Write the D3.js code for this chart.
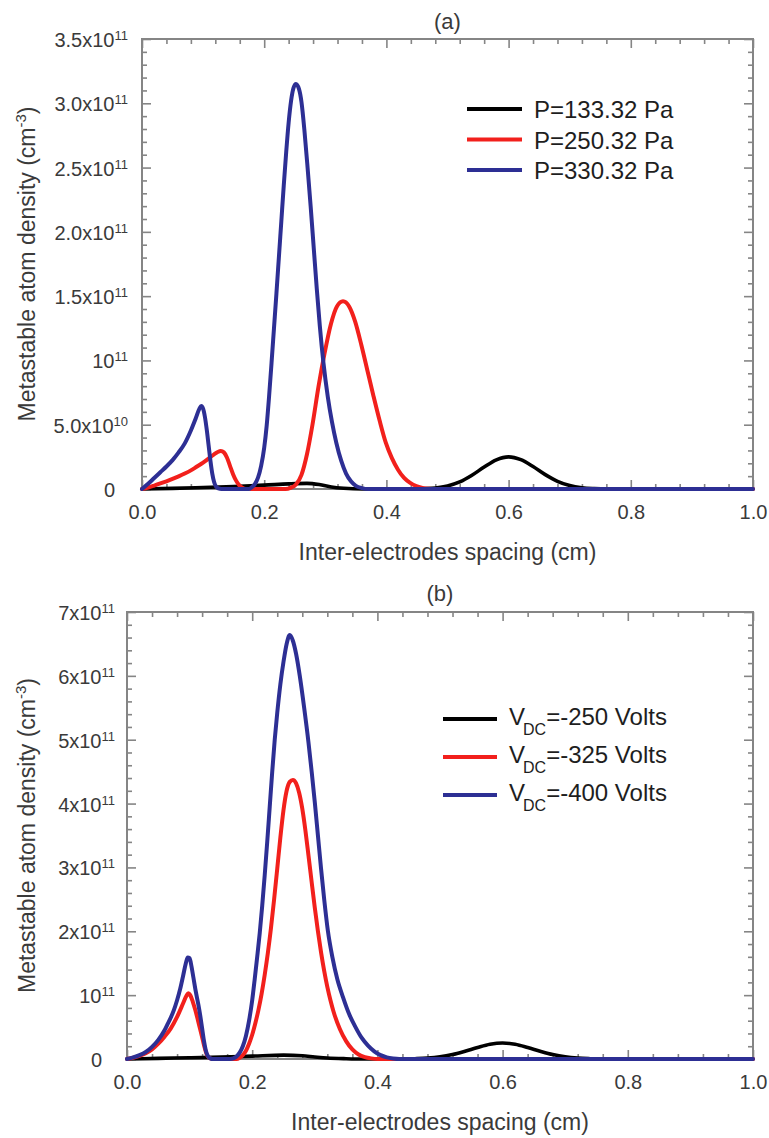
<!DOCTYPE html>
<html>
<head>
<meta charset="utf-8">
<script src="https://cdn.jsdelivr.net/npm/d3@7"></script>
<style>
  html, body { margin: 0; padding: 0; background: #fff; }
  svg { display: block; font-family: "Liberation Sans", Arial, Helvetica, sans-serif; }
</style>
</head>
<body>
<svg id="chart" width="769" height="1138"></svg>
<script>
// ---------------- DATA (densities in units of 1e11 cm^-3) ----------------
const xTicks = [0, 0.2, 0.4, 0.6, 0.8, 1.0];
const xTickLabels = ["0.0", "0.2", "0.4", "0.6", "0.8", "1.0"];

const yTicksA = [0, 0.5, 1, 1.5, 2, 2.5, 3, 3.5];
const yTickLabelsA = [["0", ""], ["5.0x10", "10"], ["10", "11"], ["1.5x10", "11"], ["2.0x10", "11"], ["2.5x10", "11"], ["3.0x10", "11"], ["3.5x10", "11"]];

const yTicksB = [0, 1, 2, 3, 4, 5, 6, 7];
const yTickLabelsB = [["0", ""], ["10", "11"], ["2x10", "11"], ["3x10", "11"], ["4x10", "11"], ["5x10", "11"], ["6x10", "11"], ["7x10", "11"]];

const legendA = ["P=133.32 Pa", "P=250.32 Pa", "P=330.32 Pa"];
const legendB = [["V", "DC", "=-250 Volts"], ["V", "DC", "=-325 Volts"], ["V", "DC", "=-400 Volts"]];

// Panel (a): P = 133.32 Pa
const blackA = [[0,0],[0.05,0.005],[0.1,0.012],[0.15,0.02],[0.2,0.03],[0.24,0.04],[0.27,0.044],[0.29,0.035],[0.31,0.016],[0.33,0.006],[0.36,0],[0.45,0],[0.46,0.002],[0.48,0.008],[0.5,0.024],[0.52,0.055],[0.54,0.107],[0.56,0.171],[0.58,0.227],[0.6,0.25],[0.62,0.228],[0.64,0.175],[0.66,0.112],[0.68,0.06],[0.7,0.027],[0.72,0.01],[0.74,0.003],[0.76,0],[1,0]];
// Panel (a): P = 250.32 Pa
const redA = [[0,0],[0.01,0.012],[0.02,0.027],[0.03,0.043],[0.04,0.06],[0.05,0.078],[0.06,0.098],[0.07,0.12],[0.08,0.145],[0.09,0.175],[0.1,0.205],[0.11,0.24],[0.118,0.27],[0.124,0.288],[0.129,0.295],[0.134,0.285],[0.139,0.245],[0.144,0.18],[0.149,0.115],[0.154,0.065],[0.159,0.03],[0.164,0.01],[0.17,0],[0.235,0],[0.243,0.008],[0.252,0.035],[0.261,0.11],[0.27,0.27],[0.279,0.5],[0.289,0.8],[0.299,1.06],[0.309,1.28],[0.319,1.42],[0.329,1.46],[0.339,1.42],[0.349,1.3],[0.359,1.12],[0.369,0.92],[0.379,0.72],[0.389,0.53],[0.399,0.36],[0.409,0.24],[0.419,0.15],[0.429,0.086],[0.439,0.047],[0.449,0.022],[0.459,0.009],[0.47,0.002],[0.48,0],[1,0]];
// Panel (a): P = 330.32 Pa
const blueA = [[0,0],[0.01,0.04],[0.02,0.085],[0.03,0.13],[0.04,0.175],[0.05,0.225],[0.06,0.285],[0.07,0.355],[0.08,0.455],[0.088,0.55],[0.094,0.625],[0.097,0.645],[0.1,0.625],[0.103,0.56],[0.106,0.46],[0.109,0.34],[0.112,0.22],[0.115,0.12],[0.118,0.055],[0.121,0.02],[0.125,0.005],[0.13,0],[0.175,0],[0.18,0.015],[0.185,0.04],[0.19,0.09],[0.195,0.18],[0.2,0.32],[0.204,0.49],[0.208,0.72],[0.212,0.98],[0.216,1.25],[0.22,1.52],[0.224,1.8],[0.228,2.08],[0.232,2.36],[0.236,2.62],[0.24,2.85],[0.244,3.02],[0.248,3.12],[0.252,3.15],[0.257,3.11],[0.261,3.01],[0.266,2.78],[0.271,2.5],[0.276,2.2],[0.281,1.88],[0.286,1.56],[0.291,1.27],[0.297,0.98],[0.304,0.72],[0.311,0.52],[0.318,0.36],[0.326,0.22],[0.334,0.12],[0.342,0.06],[0.35,0.025],[0.36,0.007],[0.37,0],[1,0]];

// Panel (b): VDC = -250 V
const blackB = [[0,0],[0.05,0.01],[0.1,0.02],[0.15,0.03],[0.2,0.045],[0.25,0.06],[0.28,0.05],[0.3,0.032],[0.32,0.016],[0.35,0.005],[0.38,0],[0.44,0],[0.46,0.005],[0.48,0.014],[0.5,0.034],[0.52,0.07],[0.54,0.122],[0.56,0.18],[0.58,0.23],[0.6,0.25],[0.62,0.23],[0.64,0.18],[0.66,0.122],[0.68,0.07],[0.7,0.034],[0.72,0.014],[0.74,0.005],[0.76,0],[1,0]];
// Panel (b): VDC = -325 V
const redB = [[0,0],[0.01,0.02],[0.02,0.05],[0.03,0.09],[0.04,0.15],[0.05,0.24],[0.06,0.35],[0.07,0.48],[0.08,0.66],[0.09,0.88],[0.095,0.99],[0.098,1.03],[0.101,1.0],[0.105,0.9],[0.109,0.77],[0.113,0.62],[0.117,0.46],[0.121,0.3],[0.124,0.18],[0.127,0.08],[0.13,0.03],[0.134,0.005],[0.138,0],[0.175,0],[0.18,0.02],[0.185,0.06],[0.19,0.13],[0.195,0.24],[0.2,0.38],[0.205,0.56],[0.21,0.77],[0.215,1.02],[0.22,1.32],[0.225,1.66],[0.23,2.05],[0.235,2.5],[0.24,2.98],[0.245,3.47],[0.25,3.9],[0.255,4.2],[0.26,4.34],[0.265,4.37],[0.27,4.32],[0.275,4.17],[0.28,3.92],[0.285,3.58],[0.29,3.18],[0.295,2.77],[0.3,2.37],[0.305,2.0],[0.31,1.67],[0.315,1.38],[0.32,1.13],[0.325,0.92],[0.33,0.74],[0.34,0.47],[0.35,0.28],[0.36,0.15],[0.37,0.07],[0.38,0.03],[0.39,0.01],[0.4,0],[1,0]];
// Panel (b): VDC = -400 V
const blueB = [[0,0],[0.01,0.025],[0.02,0.06],[0.03,0.11],[0.04,0.19],[0.05,0.3],[0.06,0.45],[0.065,0.55],[0.07,0.65],[0.075,0.77],[0.08,0.92],[0.085,1.1],[0.09,1.32],[0.094,1.5],[0.097,1.59],[0.1,1.58],[0.103,1.45],[0.106,1.28],[0.11,1.05],[0.114,0.85],[0.117,0.68],[0.12,0.48],[0.123,0.28],[0.126,0.13],[0.129,0.05],[0.133,0.01],[0.137,0],[0.165,0],[0.17,0.01],[0.175,0.04],[0.18,0.1],[0.185,0.2],[0.19,0.36],[0.195,0.6],[0.2,0.92],[0.204,1.25],[0.208,1.6],[0.212,1.97],[0.216,2.4],[0.22,2.88],[0.224,3.4],[0.228,3.95],[0.232,4.5],[0.236,5.0],[0.24,5.42],[0.245,5.87],[0.25,6.22],[0.255,6.5],[0.26,6.64],[0.265,6.55],[0.27,6.35],[0.276,6.0],[0.283,5.5],[0.29,4.95],[0.295,4.5],[0.3,4.02],[0.305,3.5],[0.31,2.98],[0.315,2.5],[0.321,2.0],[0.328,1.6],[0.336,1.25],[0.345,0.97],[0.355,0.7],[0.365,0.5],[0.375,0.33],[0.385,0.21],[0.395,0.12],[0.405,0.06],[0.415,0.025],[0.425,0.008],[0.435,0],[1,0]];

// ---------------- STYLE / LAYOUT ----------------
const colors = ["#000000", "#f2201c", "#2d2f94"];
const frameColor = "#858585";
const textColor = "#3a3a3a";

const panels = [
  { left: 142, right: 753, top: 39, bottom: 489, yMax: 3.5, yTicks: yTicksA, yLabels: yTickLabelsA, yMinorStep: 0.1,
    series: [blackA, redA, blueA], title: "(a)", titleY: 29, ylabRight: 14,
    legend: { x1: 467, x2: 522, y0: 109, dy: 30.5, tx: 534, items: legendA, sub: false } },
  { left: 127, right: 753, top: 612, bottom: 1059, yMax: 7, yTicks: yTicksB, yLabels: yTickLabelsB, yMinorStep: 0.2,
    series: [blackB, redB, blueB], title: "(b)", titleY: 601, ylabRight: 12,
    legend: { x1: 443, x2: 497, y0: 719, dy: 38, tx: 509, items: legendB, sub: true } }
];

const svg = d3.select("#chart");
svg.append("rect").attr("width", 769).attr("height", 1138).attr("fill", "#fff");

panels.forEach(p => {
  const x = d3.scaleLinear().domain([0, 1]).range([p.left, p.right]);
  const y = d3.scaleLinear().domain([0, p.yMax]).range([p.bottom, p.top]);
  const g = svg.append("g");

  const xMinor = d3.range(0, 1.0001, 0.04).filter(v => Math.abs(v / 0.2 - Math.round(v / 0.2)) > 1e-6);
  const yMinor = d3.range(0, p.yMax + 1e-6, p.yMinorStep).filter(v => p.yTicks.every(t => Math.abs(t - v) > 1e-6));

  function styleAxis(sel) {
    sel.select(".domain").remove();
    sel.selectAll(".tick line").attr("stroke", frameColor).attr("stroke-width", 1.6);
  }
  const xb = g.append("g").attr("transform", `translate(0,${p.bottom})`)
    .call(d3.axisBottom(x).tickValues(xTicks).tickSizeInner(-9).tickSizeOuter(0).tickPadding(16)
      .tickFormat((d, i) => xTickLabels[i]));
  styleAxis(xb);
  xb.selectAll(".tick text").attr("fill", textColor).attr("font-size", 20)
    .attr("font-family", '"Liberation Sans", Arial, sans-serif');
  g.append("g").attr("transform", `translate(0,${p.bottom})`)
    .call(d3.axisBottom(x).tickValues(xMinor).tickSizeInner(-5).tickSizeOuter(0).tickFormat(""))
    .call(styleAxis);
  g.append("g").attr("transform", `translate(0,${p.top})`)
    .call(d3.axisTop(x).tickValues(xTicks).tickSizeInner(-9).tickSizeOuter(0).tickFormat(""))
    .call(styleAxis);
  g.append("g").attr("transform", `translate(0,${p.top})`)
    .call(d3.axisTop(x).tickValues(xMinor).tickSizeInner(-5).tickSizeOuter(0).tickFormat(""))
    .call(styleAxis);
  g.append("g").attr("transform", `translate(${p.left},0)`)
    .call(d3.axisLeft(y).tickValues(p.yTicks).tickSizeInner(-9).tickSizeOuter(0).tickFormat(""))
    .call(styleAxis);
  g.append("g").attr("transform", `translate(${p.left},0)`)
    .call(d3.axisLeft(y).tickValues(yMinor).tickSizeInner(-5).tickSizeOuter(0).tickFormat(""))
    .call(styleAxis);
  g.append("g").attr("transform", `translate(${p.right},0)`)
    .call(d3.axisRight(y).tickValues(p.yTicks).tickSizeInner(-9).tickSizeOuter(0).tickFormat(""))
    .call(styleAxis);
  g.append("g").attr("transform", `translate(${p.right},0)`)
    .call(d3.axisRight(y).tickValues(yMinor).tickSizeInner(-5).tickSizeOuter(0).tickFormat(""))
    .call(styleAxis);

  p.yTicks.forEach((t, i) => {
    const [mant, exp] = p.yLabels[i];
    const tx = g.append("text")
      .attr("x", p.left - p.ylabRight - (exp ? 0 : 13))
      .attr("y", y(t) + 8)
      .attr("text-anchor", "end")
      .attr("fill", textColor)
      .attr("font-size", 20);
    tx.append("tspan").text(mant);
    if (exp) {
      tx.append("tspan").attr("font-size", 13).attr("dy", -7).text(exp);
    }
  });

  g.append("rect").attr("x", p.left).attr("y", p.top)
    .attr("width", p.right - p.left).attr("height", p.bottom - p.top)
    .attr("fill", "none").attr("stroke", frameColor).attr("stroke-width", 2);

  const line = d3.line().x(d => x(d[0])).y(d => y(d[1])).curve(d3.curveMonotoneX);
  p.series.forEach((s, i) => {
    g.append("path").datum(s).attr("d", line)
      .attr("fill", "none").attr("stroke", colors[i])
      .attr("stroke-width", i === 0 ? 3.6 : 4)
      .attr("stroke-linejoin", "round").attr("stroke-linecap", "round");
  });

  const L = p.legend;
  L.items.forEach((it, i) => {
    const ly = L.y0 + i * L.dy;
    g.append("line").attr("x1", L.x1).attr("x2", L.x2).attr("y1", ly).attr("y2", ly)
      .attr("stroke", colors[i]).attr("stroke-width", 4);
    const t = g.append("text").attr("x", L.tx).attr("fill", "#1e1e1e").attr("font-size", 24);
    if (L.sub) {
      t.attr("y", ly + 6);
      t.append("tspan").text(it[0]);
      t.append("tspan").attr("font-size", 16).attr("dy", 10).attr("dx", -2).text(it[1]);
      t.append("tspan").attr("dy", -10).text(it[2]);
    } else {
      t.attr("y", ly + 9).text(it);
    }
  });

  g.append("text").attr("x", (p.left + p.right) / 2).attr("y", p.titleY)
    .attr("text-anchor", "middle").attr("fill", textColor).attr("font-size", 22).text(p.title);

  g.append("text").attr("x", (p.left + p.right) / 2).attr("y", p.bottom + 71)
    .attr("text-anchor", "middle").attr("fill", textColor).attr("font-size", 23)
    .text("Inter-electrodes spacing (cm)");

  const yt = g.append("text")
    .attr("transform", `translate(35,${(p.top + p.bottom) / 2}) rotate(-90)`)
    .attr("text-anchor", "middle").attr("fill", textColor).attr("font-size", 23);
  yt.append("tspan").text("Metastable atom density (cm");
  yt.append("tspan").attr("font-size", 15).attr("dy", -9).text("-3");
  yt.append("tspan").attr("dy", 9).text(")");
});
</script>
</body>
</html>
